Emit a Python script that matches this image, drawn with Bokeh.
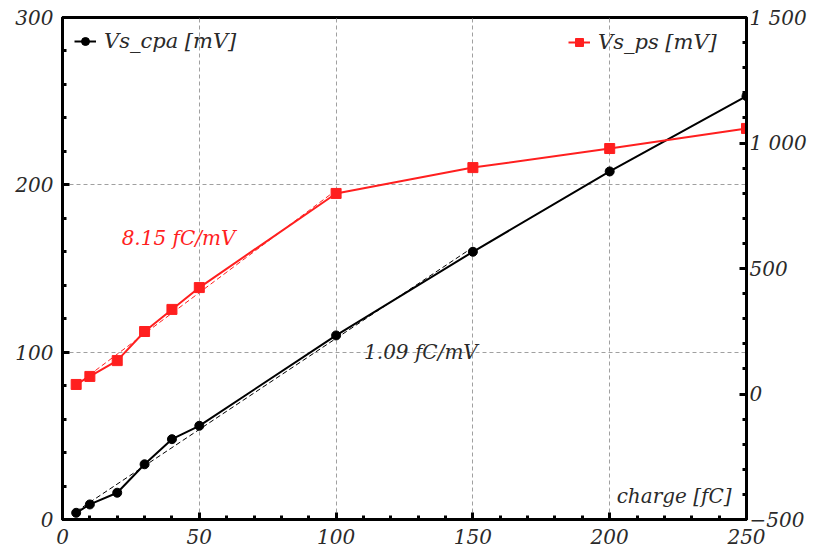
import numpy as np
from bokeh.plotting import figure
from bokeh.models import Range1d, LinearAxis, Legend, LegendItem, Label, FixedTicker
from bokeh.embed import file_html
from bokeh.resources import INLINE

# ---- data ----
charge = [5, 10, 20, 30, 40, 50, 100, 150, 200, 250]          # fC
vs_cpa = [4, 9, 16, 33, 48, 56, 110, 160, 208, 253]           # mV (left axis)
vs_ps = [38, 70, 133, 249, 337, 424, 799, 902, 978, 1058]     # mV (right axis)

cpa_fit_max = 150   # linear fit of Vs_cpa up to this charge
ps_fit_max = 100    # linear fit of Vs_ps up to this charge
cpa_gain_label = "1.09 fC/mV"
ps_gain_label = "8.15 fC/mV"

x_ticks = [0, 50, 100, 150, 200, 250]
left_ticks = [0, 100, 200, 300]
right_ticks = [-500, 0, 500, 1000, 1500]
right_tick_labels = {1000: "1 000", 1500: "1 500"}

FONT = "DejaVu Serif"
RED = "#ff1f1f"
TXT = "#2a2a2a"

p = figure(width=817, height=551, output_backend="svg", toolbar_location=None,
           x_range=Range1d(0, 250), y_range=Range1d(0, 300),
           min_border_left=62, min_border_right=71, min_border_top=17, min_border_bottom=32)
p.extra_y_ranges = {"ps": Range1d(-500, 1500)}
right_axis = LinearAxis(y_range_name="ps")
p.add_layout(right_axis, "right")

p.xaxis[0].ticker = FixedTicker(ticks=x_ticks, minor_ticks=list(range(0, 251, 10)))
p.yaxis[0].ticker = FixedTicker(ticks=left_ticks, minor_ticks=list(range(0, 301, 20)))
right_axis.ticker = FixedTicker(ticks=right_ticks, minor_ticks=list(range(-500, 1501, 100)))
right_axis.major_label_overrides = right_tick_labels

for ax in [p.xaxis[0], p.yaxis[0], right_axis]:
    ax.axis_line_width = 3
    ax.axis_line_color = "black"
    ax.major_tick_in = 7
    ax.major_tick_out = 0
    ax.minor_tick_in = 4
    ax.minor_tick_out = 0
    ax.major_tick_line_width = 3
    ax.minor_tick_line_width = 3
    ax.major_label_text_font = FONT
    ax.major_label_text_font_style = "italic"
    ax.major_label_text_font_size = "20px"
    ax.major_label_text_color = TXT
p.xaxis[0].major_label_standoff = 9
p.yaxis[0].major_label_standoff = 9
right_axis.major_label_standoff = 3

p.outline_line_color = "black"
p.outline_line_width = 3
p.outline_line_alpha = 1

for g in [p.xgrid[0], p.ygrid[0]]:
    g.grid_line_color = "#a0a0a0"
    g.grid_line_dash = "4 3"
    g.grid_line_width = 1

x = np.array(charge, dtype=float)
yc = np.array(vs_cpa, dtype=float)
yp = np.array(vs_ps, dtype=float)

# linear fits (dashed)
mc = x <= cpa_fit_max
kc, bc = np.polyfit(x[mc], yc[mc], 1)
xc = np.array([x[mc].min(), x[mc].max()])
p.line(xc, kc * xc + bc, color="black", line_width=1, line_dash="5 3")

mp = x <= ps_fit_max
kp, bp = np.polyfit(x[mp], yp[mp], 1)
xpf = np.array([x[mp].min(), x[mp].max()])
p.line(xpf, kp * xpf + bp, color=RED, line_width=1, line_dash="5 3", y_range_name="ps")

cpa_line = p.line(charge, vs_cpa, color="black", line_width=2)
cpa_pts = p.scatter(charge, vs_cpa, marker="circle", size=9, color="black")
ps_line = p.line(charge, vs_ps, color=RED, line_width=2, y_range_name="ps")
ps_pts = p.scatter(charge, vs_ps, marker="square", size=10, color=RED, y_range_name="ps")

def style_legend(lg):
    lg.background_fill_alpha = 0
    lg.border_line_alpha = 0
    lg.label_text_font = FONT
    lg.label_text_font_style = "italic"
    lg.label_text_font_size = "21px"
    lg.label_text_color = TXT
    lg.glyph_width = 22
    lg.label_standoff = 8
    lg.padding = 3
    lg.margin = 10

leg1 = Legend(items=[LegendItem(label="Vs_cpa [mV]", renderers=[cpa_line, cpa_pts])],
              location="top_left")
style_legend(leg1)
leg1.margin = 9
p.add_layout(leg1)

leg2 = Legend(items=[LegendItem(label="Vs_ps [mV]", renderers=[ps_line, ps_pts])],
              location="top_right")
style_legend(leg2)
leg2.label_width = 135
p.add_layout(leg2)

p.add_layout(Label(x=42.4, y=168, text=ps_gain_label, text_color=RED, text_font=FONT,
                   text_font_style="italic", text_font_size="20px",
                   text_align="center", text_baseline="middle"))
p.add_layout(Label(x=131, y=100, text=cpa_gain_label, text_color=TXT, text_font=FONT,
                   text_font_style="italic", text_font_size="20px",
                   text_align="center", text_baseline="middle"))
p.add_layout(Label(x=250, y=0, x_offset=-15, y_offset=12, text="charge [fC]", text_color=TXT,
                   text_font=FONT, text_font_style="italic", text_font_size="20px",
                   text_align="right", text_baseline="bottom"))

open("out.html", "w").write(file_html(p, INLINE))
